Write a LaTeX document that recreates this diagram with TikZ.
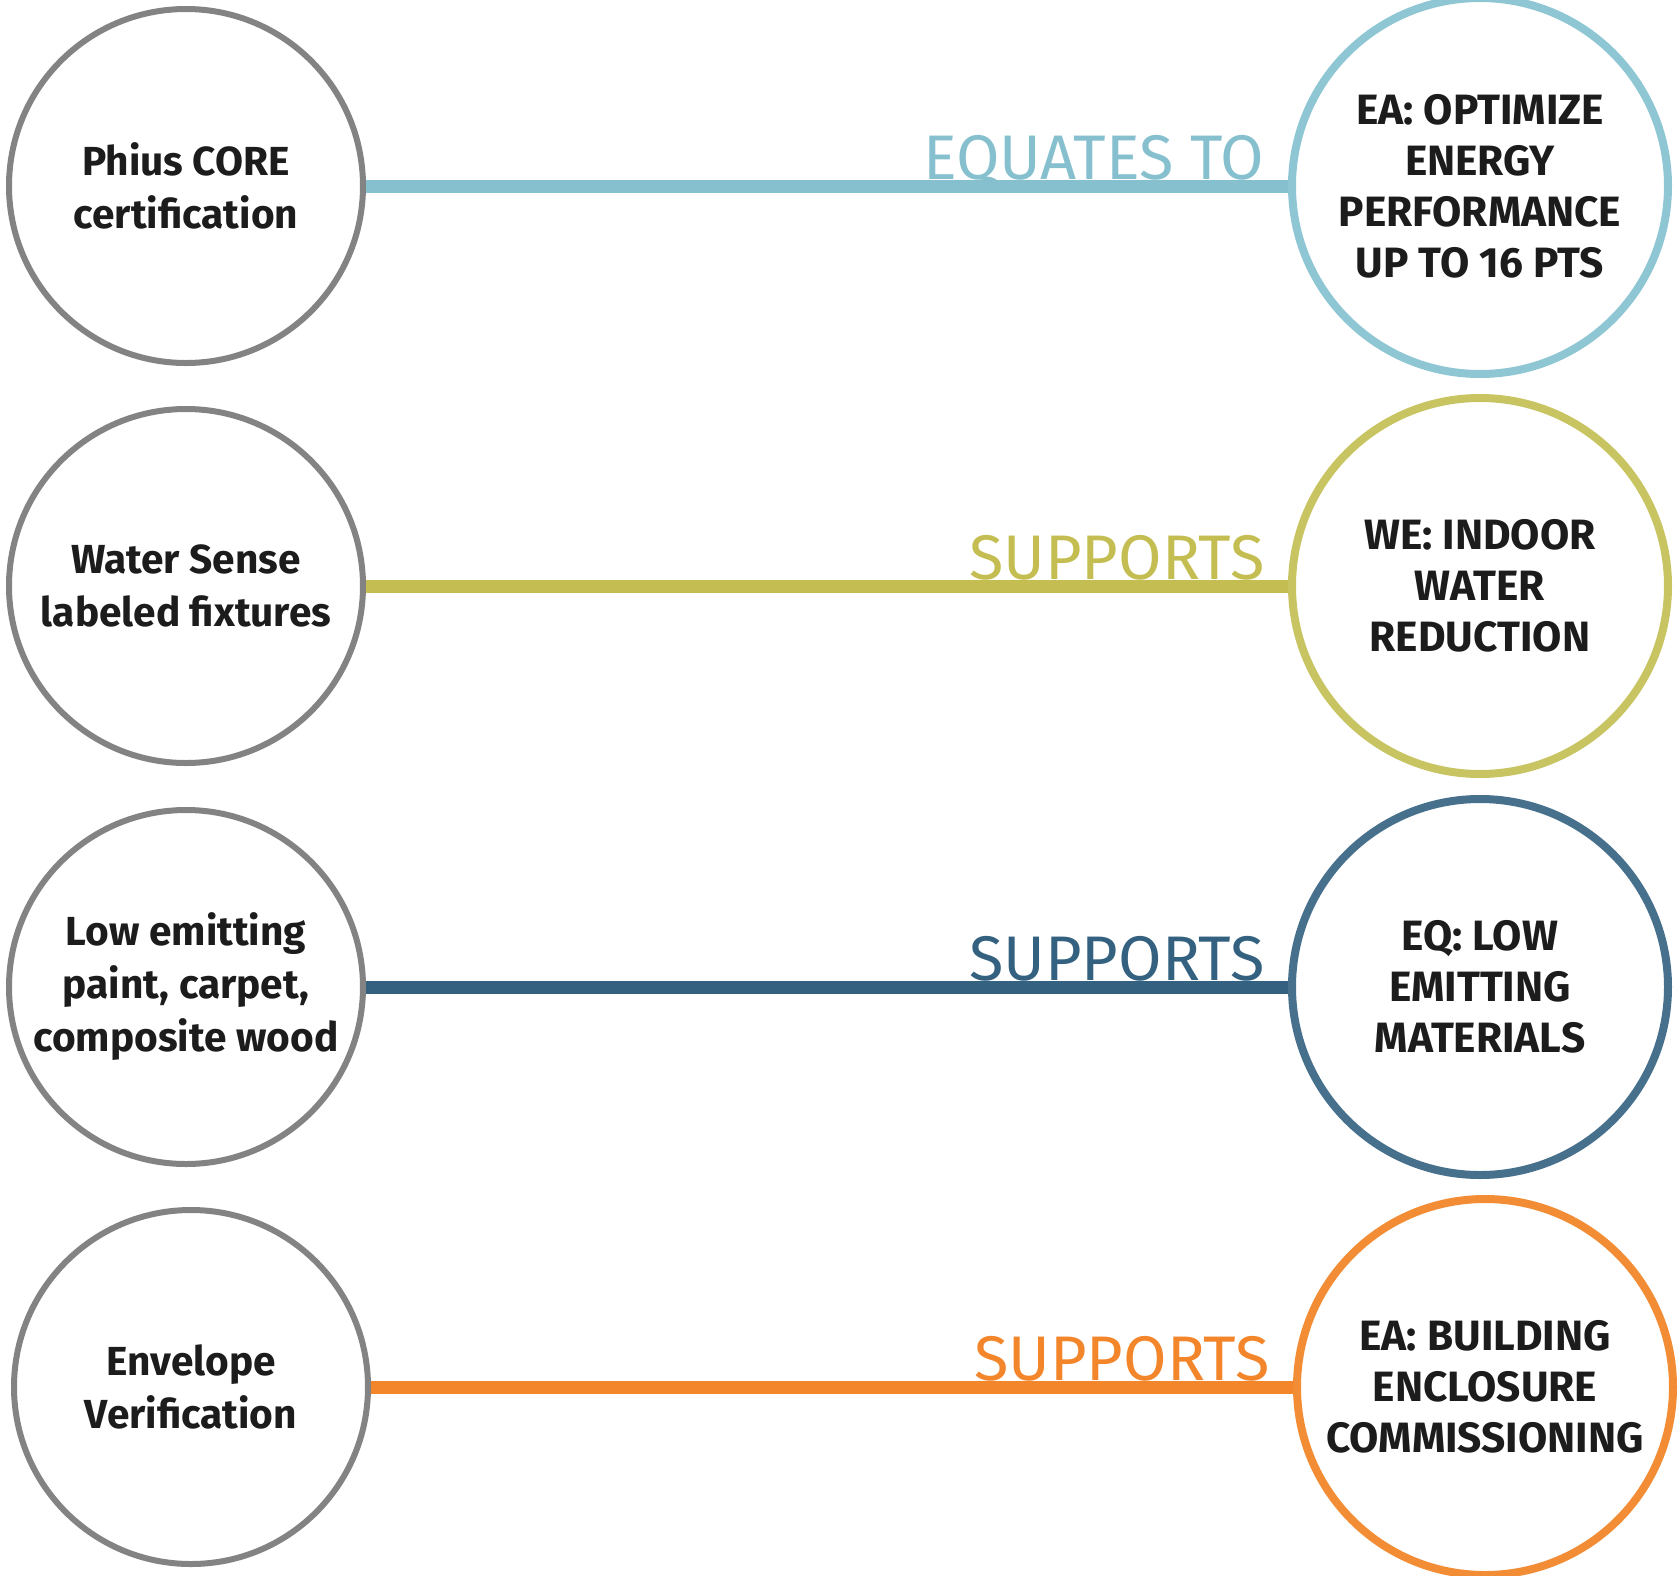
\documentclass[tikz,border=0pt]{standalone}
\usepackage{fontspec}
\setmainfont{Fira Sans}
\usepackage{tikz}

\definecolor{ringgray}{HTML}{838383}
\definecolor{inkdark}{HTML}{1C1C1C}
\definecolor{energyblue}{HTML}{86C0CF}
\definecolor{energyring}{HTML}{8EC6D4}
\definecolor{watergreen}{HTML}{C4BE52}
\definecolor{waterring}{HTML}{C8C462}
\definecolor{eqblue}{HTML}{33617F}
\definecolor{eqring}{HTML}{46708C}
\definecolor{cxorange}{HTML}{F3852A}
\definecolor{cxring}{HTML}{F28D36}

\begin{document}
\begin{tikzpicture}[
  x=0.5pt, y=-0.5pt,
  measure/.style={circle, draw=ringgray, line width=3pt, minimum size=177pt, inner sep=0pt,
    align=center, text=inkdark, font=\fontsize{20.3}{26.5}\selectfont\bfseries},
  credit/.style={circle, line width=4pt, minimum size=188pt, inner sep=0pt,
    align=center, text=inkdark, font=\fontsize{21.2}{25.5}\selectfont\bfseries},
  link/.style={line width=6.5pt},
  verb/.style={anchor=base east, xshift=-8.5pt, yshift=3.2pt, inner sep=0pt,
    font=\fontsize{31.5}{36}\selectfont},
]
\useasboundingbox (0,0) rectangle (1678,1576);

% --- Row 1: energy ---
\node[measure] (phius) at (186,186) {Phius CORE\\certification};
\node[credit, draw=energyring] (eaopt) at (1480,186) {EA: OPTIMIZE\\ENERGY\\PERFORMANCE\\UP TO 16 PTS};
\draw[link, energyblue] (phius) -- (eaopt)
  node[verb, pos=1, text=energyblue] {EQUATES TO};

% --- Row 2: water ---
\node[measure] (watersense) at (186,586) {Water Sense\\labeled fixtures};
\node[credit, draw=waterring] (weindoor) at (1480,586) {WE: INDOOR\\WATER\\REDUCTION};
\draw[link, watergreen] (watersense) -- (weindoor)
  node[verb, pos=1, text=watergreen] {SUPPORTS};

% --- Row 3: materials ---
\node[measure] (lowemit) at (186,987) {Low emitting\\paint, carpet,\\composite wood};
\node[credit, draw=eqring] (eqlow) at (1480,987) {EQ: LOW\\EMITTING\\MATERIALS};
\draw[link, eqblue] (lowemit) -- (eqlow)
  node[verb, pos=1, text=eqblue] {SUPPORTS};

% --- Row 4: enclosure ---
\node[measure] (envelope) at (191,1387) {Envelope\\Verification};
\node[credit, draw=cxring] (eabldg) at (1485,1387) {EA: BUILDING\\ENCLOSURE\\COMMISSIONING};
\draw[link, cxorange] (envelope) -- (eabldg)
  node[verb, pos=1, text=cxorange] {SUPPORTS};

\end{tikzpicture}
\end{document}
